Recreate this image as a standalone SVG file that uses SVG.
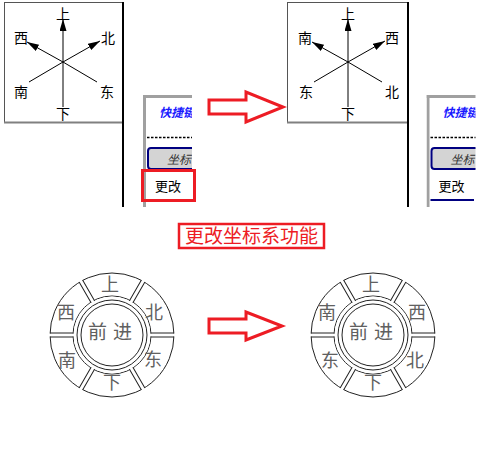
<svg xmlns="http://www.w3.org/2000/svg" width="503" height="458" viewBox="0 0 503 458">
<style>
text{font-family:"Liberation Sans","Noto Sans CJK SC","Noto Sans CJK JP",sans-serif}
.star text{font-size:14px;fill:#000;text-anchor:middle}
.ln{stroke:#000;stroke-width:1;fill:none}
.arr{stroke:#ed1c24;stroke-width:3;fill:#fff;stroke-linejoin:miter}
.wl{font-size:18px;fill:#606060;text-anchor:middle}
.wc{font-size:19px;fill:#606060;text-anchor:middle;letter-spacing:6px}
.wk{stroke:#222;stroke-width:1;fill:none}
.gap{stroke:#fff;stroke-width:3}
.blue{font-size:12px;font-weight:bold;font-style:italic;fill:#1a1aff}
.btn{fill:#d4d4d4;stroke:#000080;stroke-width:2}
.bt{font-size:12px;font-style:italic;fill:#333}
.mt{font-size:13px;fill:#000}
</style>
<defs>
<marker id="ah" markerUnits="userSpaceOnUse" markerWidth="13" markerHeight="8" refX="12" refY="3.5" orient="auto"><path d="M0,0 L12,3.5 L0,7 z" fill="#000"/></marker>
<clipPath id="topclip"><rect x="0" y="0" width="503" height="207"/></clipPath>
<clipPath id="menuclip"><rect x="0" y="0" width="49" height="112"/></clipPath>
<g id="axes">
<line class="ln" x1="0" y1="0" x2="0" y2="-43" marker-end="url(#ah)"/>
<line class="ln" x1="0" y1="0" x2="0" y2="45"/>
<line class="ln" x1="0" y1="0" x2="-36" y2="-20" marker-end="url(#ah)"/>
<line class="ln" x1="0" y1="0" x2="37" y2="-21" marker-end="url(#ah)"/>
<line class="ln" x1="0" y1="0" x2="-34" y2="20"/>
<line class="ln" x1="0" y1="0" x2="34" y2="20"/>
</g>
<g id="menu">
<rect x="0" y="0" width="3" height="112" fill="#a0a0a0"/>
<rect x="0" y="0" width="50" height="3" fill="#a0a0a0"/>
<text class="blue" x="16" y="22">快捷键</text>
<line x1="4" y1="42.5" x2="50" y2="42.5" stroke="#000" stroke-width="1.5" stroke-dasharray="2.5 1.5"/>
<rect class="btn" x="5" y="53" width="60" height="21" rx="3"/>
<text class="bt" x="24" y="69">坐标</text>
<text class="mt" x="12" y="95.5">更改</text>
<line x1="4" y1="105" x2="47.5" y2="105" stroke="#000080" stroke-width="2"/>
</g>
<g id="wheelbase">
<circle r="62" fill="#fff" stroke="#222"/>
<circle class="wk" r="39"/>
<g class="gap">
<line x1="-64" y1="0" x2="64" y2="0"/>
<line x1="-64" y1="0" x2="64" y2="0" transform="rotate(60)"/>
<line x1="-64" y1="0" x2="64" y2="0" transform="rotate(120)"/>
</g>
<g class="wk">
<path d="M-62,-2 H62 M-62,2 H62"/>
<path d="M-62,-2 H62 M-62,2 H62" transform="rotate(60)"/>
<path d="M-62,-2 H62 M-62,2 H62" transform="rotate(120)"/>
</g>
<circle r="38.5" fill="#fff"/>
<circle class="wk" r="35"/>
<circle class="wk" r="31"/>
<text class="wc" x="1" y="4">前进</text>
</g>
</defs>

<g id="top-screens" clip-path="url(#topclip)">
<g id="box-before">
<rect x="4.5" y="2.5" width="118.5" height="120" fill="#fff" stroke="#555"/>
<line x1="4" y1="122.5" x2="123" y2="122.5" stroke="#808080" stroke-width="2"/>
<line x1="123" y1="2" x2="123" y2="207" stroke="#000" stroke-width="2"/>
<g class="star">
<use href="#axes" transform="translate(63,62)"/>
<text x="63" y="19">上</text>
<text x="63" y="119">下</text>
<text x="21" y="43">西</text>
<text x="108" y="43">北</text>
<text x="21" y="97">南</text>
<text x="107" y="97">东</text>
</g>
</g>
<g id="box-after">
<rect x="287.5" y="2.5" width="120" height="120" fill="#fff" stroke="#555"/>
<line x1="287" y1="122.5" x2="408" y2="122.5" stroke="#808080" stroke-width="2"/>
<line x1="408" y1="2" x2="408" y2="207" stroke="#000" stroke-width="2"/>
<g class="star">
<use href="#axes" transform="translate(348,62)"/>
<text x="348" y="19">上</text>
<text x="348" y="119">下</text>
<text x="305" y="43">南</text>
<text x="392" y="43">西</text>
<text x="306" y="97">东</text>
<text x="392" y="97">北</text>
</g>
</g>
<g id="menu-before" transform="translate(143,95)"><use href="#menu" clip-path="url(#menuclip)"/></g>
<g id="menu-after" transform="translate(426.5,95)"><use href="#menu" clip-path="url(#menuclip)"/></g>
</g>

<rect id="highlight" x="142.5" y="170.5" width="52" height="30" fill="none" stroke="#ed1c24" stroke-width="3"/>

<g id="connectors">
<path class="arr" d="M209,100 L246,100 L246,92 L283,107 L246,122 L246,114 L209,114 Z"/>
<path class="arr" d="M209,319 L246,319 L246,312 L282,326 L246,340 L246,333 L209,333 Z"/>
</g>

<g id="title">
<rect x="179" y="224" width="145" height="24" fill="#fff" stroke="#ed1c24" stroke-width="2.5"/>
<text x="251.5" y="243" font-size="19" fill="#ed1c24" text-anchor="middle">更改坐标系功能</text>
</g>

<g id="wheel-before" transform="translate(112,335)">
<use href="#wheelbase"/>
<text class="wl" x="-2" y="-44">上</text>
<text class="wl" x="0" y="54">下</text>
<text class="wl" x="-46" y="-16">西</text>
<text class="wl" x="42" y="-16">北</text>
<text class="wl" x="-45" y="32">南</text>
<text class="wl" x="41" y="31">东</text>
</g>
<g id="wheel-after" transform="translate(373,335)">
<use href="#wheelbase"/>
<text class="wl" x="-2" y="-44">上</text>
<text class="wl" x="0" y="54">下</text>
<text class="wl" x="-46" y="-16">南</text>
<text class="wl" x="44" y="-16">西</text>
<text class="wl" x="-43" y="32">东</text>
<text class="wl" x="42" y="32">北</text>
</g>
</svg>
